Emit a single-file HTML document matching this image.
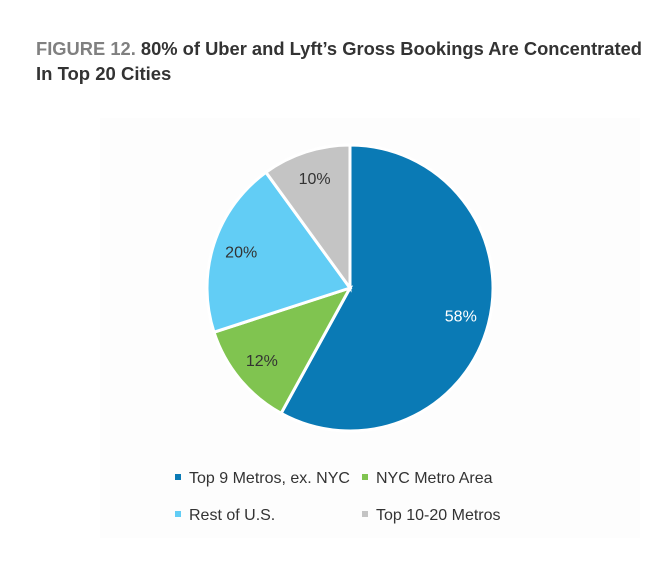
<!DOCTYPE html>
<html><head><meta charset="utf-8"><style>
body{margin:0;background:#fff;font-family:"Liberation Sans",sans-serif;}
</style></head><body>
<svg width="660" height="561" xmlns="http://www.w3.org/2000/svg">
<rect x="100" y="118" width="540" height="420" fill="#fdfdfd"/>
<text x="36" y="55" font-size="18.5" font-weight="bold" font-family="Liberation Sans, sans-serif" textLength="606" lengthAdjust="spacingAndGlyphs"><tspan fill="#808080">FIGURE 12.</tspan><tspan fill="#333"> 80% of Uber and Lyft’s Gross Bookings Are Concentrated</tspan></text>
<text x="36" y="80" font-size="18.5" font-weight="bold" fill="#333" font-family="Liberation Sans, sans-serif">In Top 20 Cities</text>
<g id="pie"></g>
<g id="legend"></g>
</svg>
<script>
const labels=["Top 9 Metros, ex. NYC","NYC Metro Area","Rest of U.S.","Top 10-20 Metros"];
const values=[58,12,20,10];
const colors=["#0a7ab5","#80c450","#62cdf5","#c4c4c4"];
const textColors=["#fff","#333","#333","#333"];
const NS="http://www.w3.org/2000/svg";
const cx=350,cy=288,r=143;
const pie=document.getElementById('pie');
const total=values.reduce((a,b)=>a+b,0);
let a0=0;
values.forEach((v,i)=>{
  const a1=a0+v/total*2*Math.PI;
  const p=(a)=>[cx+r*Math.sin(a),cy-r*Math.cos(a)];
  const [x0,y0]=p(a0),[x1,y1]=p(a1);
  const path=document.createElementNS(NS,'path');
  path.setAttribute('d',`M${cx},${cy}L${x0},${y0}A${r},${r} 0 ${a1-a0>Math.PI?1:0} 1 ${x1},${y1}Z`);
  path.setAttribute('fill',colors[i]);path.setAttribute('stroke','#fff');path.setAttribute('stroke-width','3');
  
  
  pie.appendChild(path);
  const am=(a0+a1)/2, lr=r*0.8;
  const t=document.createElementNS(NS,'text');
  t.setAttribute('x',cx+lr*Math.sin(am));t.setAttribute('y',cy-lr*Math.cos(am)+5);
  t.setAttribute('text-anchor','middle');t.setAttribute('font-size','16');t.setAttribute('fill',textColors[i]);
  t.textContent=v+'%';
  
  
  pie.appendChild(t);
  a0=a1;
});
const leg=document.getElementById('legend');
const pos=[[177,477],[364,477],[177,514],[364,514]];
labels.forEach((l,i)=>{
  const g=document.createElementNS(NS,'g');
  
  
  const s=document.createElementNS(NS,'rect');
  s.setAttribute('x',pos[i][0]-2);s.setAttribute('y',pos[i][1]-3);s.setAttribute('width',6);s.setAttribute('height',6);s.setAttribute('fill',colors[i]);
  g.appendChild(s);
  const t=document.createElementNS(NS,'text');
  t.setAttribute('x',pos[i][0]+12);t.setAttribute('y',pos[i][1]+6);t.setAttribute('font-size','16');t.setAttribute('fill','#333');
  t.textContent=l;g.appendChild(t);
  leg.appendChild(g);
});
</script>
</body></html>
